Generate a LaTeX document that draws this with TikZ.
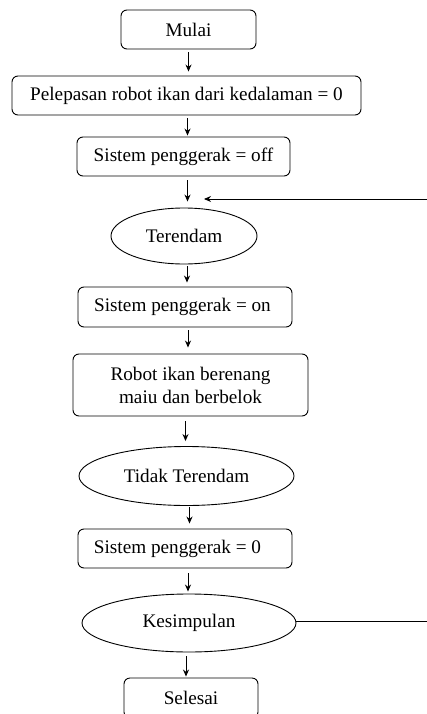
\documentclass[tikz,border=0pt]{standalone}
\usepackage{fontspec}
\setmainfont{Liberation Serif}
\usetikzlibrary{shapes.geometric,arrows.meta}
\begin{document}
\begin{tikzpicture}[x=1pt,y=-1pt,
  font=\fontsize{19.2}{23}\selectfont,
  line width=0.9pt,
  box/.style={draw,rounded corners=6pt,inner sep=0pt,align=center},
  oval/.style={draw,ellipse,inner sep=0pt},
  arr/.style={-{Stealth[length=7pt,width=6pt]}}]
\useasboundingbox (0,0) rectangle (427,714);
\node[box,minimum width=135pt,minimum height=39pt] (mulai) at (188.5,29.5) {Mulai};
\node[box,minimum width=349pt,minimum height=39pt] (pel) at (186.5,95.5) {Pelepasan robot ikan dari kedalaman = 0};
\node[box,minimum width=213pt,minimum height=39pt] (off) at (183.5,156.5) {Sistem penggerak = off};
\node[oval,minimum width=146pt,minimum height=56pt] (ter) at (184,236) {Terendam};
\node[box,minimum width=214pt,minimum height=40pt] (on) at (185,307) {Sistem penggerak = on\hspace*{5pt}};
\node[box,minimum width=235pt,minimum height=62pt] (robot) at (190.5,385) {Robot ikan berenang\\maiu dan berbelok};
\node[oval,minimum width=215pt,minimum height=59pt] (tidak) at (186.5,476) {Tidak Terendam};
\node[box,minimum width=214pt,minimum height=39pt] (nol) at (185,548.5) {Sistem penggerak = 0\hspace*{15pt}};
\node[oval,minimum width=214pt,minimum height=58pt] (kes) at (189,623) {Kesimpulan};
\node[box,minimum width=134pt,minimum height=40pt] (sel) at (191,698) {Selesai};
\coordinate (j) at (204,199);
\coordinate (r1) at (427,199);
\coordinate (r2) at (427,621);
\draw[arr] ([yshift=-3pt]mulai.south) -- ([yshift=4pt]mulai.south |- pel.north);
\draw[arr] ([xshift=1pt,yshift=-3pt]pel.south) -- ([xshift=1pt,yshift=1pt]pel.south |- off.north);
\draw[arr] ([xshift=4pt,yshift=-4pt]off.south) -- ([xshift=4pt,yshift=6pt]off.south |- ter.north);
\draw[arr] (r1) -- (j);
\draw[arr] ([xshift=3pt,yshift=-2pt]ter.south) -- ([xshift=3pt,yshift=4pt]ter.south |- on.north);
\draw[arr] ([xshift=3pt,yshift=-3pt]on.south) -- ([xshift=3pt,yshift=6pt]on.south |- robot.north);
\draw[arr] ([xshift=-5pt,yshift=-5pt]robot.south) -- ([xshift=-5pt,yshift=5pt]robot.south |- tidak.north);
\draw[arr] ([xshift=3pt,yshift=-1pt]tidak.south) -- ([xshift=3pt,yshift=5pt]tidak.south |- nol.north);
\draw[arr] ([xshift=3pt,yshift=-5pt]nol.south) -- ([xshift=3pt,yshift=2pt]nol.south |- kes.north);
\draw[arr] ([xshift=-3pt,yshift=-4pt]kes.south) -- ([xshift=-3pt,yshift=1pt]kes.south |- sel.north);
\draw ([yshift=2pt]kes.east) -- (r2);
\end{tikzpicture}
\end{document}
